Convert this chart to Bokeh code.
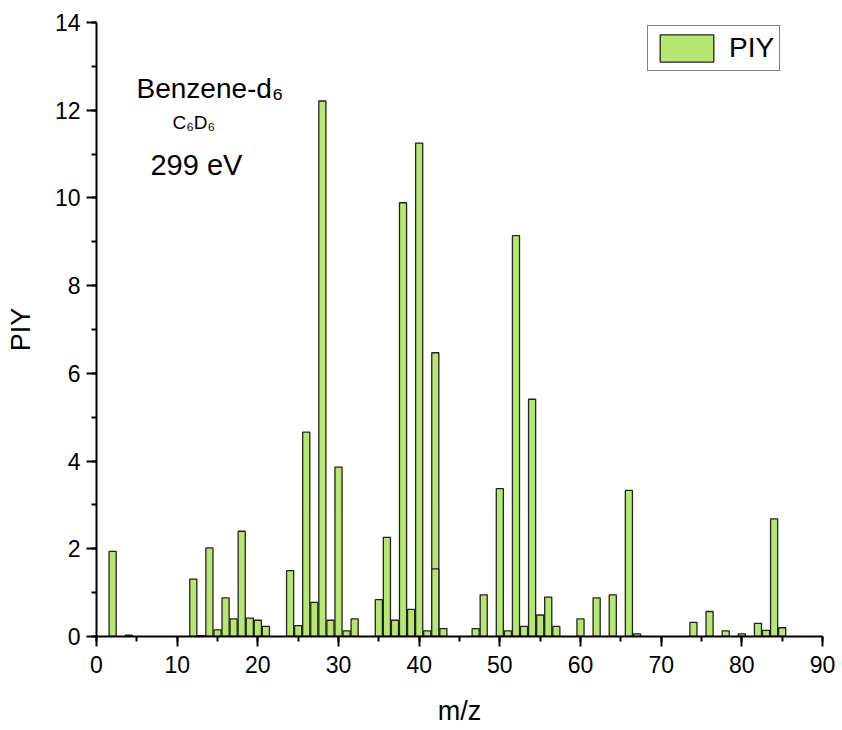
from bokeh.plotting import figure
from bokeh.models import Range1d, SingleIntervalTicker, Legend, LegendItem, Label, ColumnDataSource
from bokeh.embed import file_html
from bokeh.resources import INLINE

mz = [2, 4, 12, 13, 14, 15, 16, 17, 18, 19, 20, 21,
      24, 25, 26, 27, 28, 29, 30, 31, 32,
      35, 36, 37, 38, 39, 40, 41, 42, 42, 43,
      47, 48, 50, 51, 52, 53, 54, 55, 56, 57,
      60, 62, 64, 66, 67,
      74, 76, 78, 80, 82, 83, 84, 85]
piy = [1.94, 0.03, 1.31, 0.02, 2.02, 0.15, 0.88, 0.40, 2.40, 0.42, 0.37, 0.23,
       1.50, 0.25, 4.66, 0.78, 12.21, 0.37, 3.86, 0.13, 0.40,
       0.84, 2.26, 0.37, 9.89, 0.62, 11.25, 0.13, 6.47, 1.54, 0.18,
       0.18, 0.95, 3.37, 0.13, 9.14, 0.23, 5.41, 0.49, 0.90, 0.23,
       0.40, 0.88, 0.95, 3.33, 0.06,
       0.32, 0.57, 0.13, 0.06, 0.30, 0.14, 2.68, 0.20]

x_ticks_interval = 10
y_ticks_interval = 2

FONT = "Liberation Sans"
GREEN = "#b8e672"
EDGE = "#222222"

p = figure(width=842, height=730, output_backend="svg", toolbar_location=None,
           x_range=Range1d(0, 90), y_range=Range1d(0, 14),
           min_border_left=96, min_border_right=20, min_border_top=22, min_border_bottom=94)
p.outline_line_color = None
p.xgrid.visible = False
p.ygrid.visible = False
p.background_fill_color = "white"
p.border_fill_color = "white"

src = ColumnDataSource(data=dict(mz=mz, piy=piy))
r = p.vbar(x="mz", top="piy", width=0.88, bottom=0, source=src,
           fill_color=GREEN, line_color=EDGE, line_width=1.3)

p.xaxis.ticker = SingleIntervalTicker(interval=x_ticks_interval, num_minor_ticks=2)
p.yaxis.ticker = SingleIntervalTicker(interval=y_ticks_interval, num_minor_ticks=2)

for ax in (p.xaxis[0], p.yaxis[0]):
    ax.axis_line_width = 2
    ax.axis_line_color = "black"
    ax.major_tick_line_width = 2
    ax.minor_tick_line_width = 2
    ax.major_tick_line_color = "black"
    ax.minor_tick_line_color = "black"
    ax.major_tick_out = 10
    ax.major_tick_in = 0
    ax.minor_tick_out = 5
    ax.minor_tick_in = 0
    ax.major_label_text_font = FONT
    ax.major_label_text_font_size = "23px"
    ax.major_label_text_color = "black"
    ax.axis_label_text_font = FONT
    ax.axis_label_text_font_size = "27px"
    ax.axis_label_text_font_style = "normal"
    ax.axis_label_text_color = "black"

p.xaxis.axis_label = "m/z"
p.yaxis.axis_label = "PIY"
p.xaxis.major_label_standoff = 9
p.yaxis.major_label_standoff = 6
p.xaxis.axis_label_standoff = 20
p.yaxis.axis_label_standoff = 16

legend = Legend(items=[LegendItem(label="PIY", renderers=[r])],
                location=(551, 565), orientation="vertical",
                glyph_width=67, glyph_height=34, label_standoff=9,
                padding=5, margin=0, spacing=0,
                border_line_color="black", border_line_width=1.2,
                background_fill_color="white", background_fill_alpha=1,
                label_text_font=FONT, label_text_font_size="28px",
                label_text_color="black", label_height=34)
p.add_layout(legend)

p.add_layout(Label(x=4.96, y=12.50, text="Benzene-d₆", text_font=FONT,
                   text_font_size="28px", text_color="black", text_baseline="alphabetic"))
p.add_layout(Label(x=9.42, y=11.73, text="C₆D₆", text_font=FONT,
                   text_font_size="19px", text_color="black", text_baseline="alphabetic"))
p.add_layout(Label(x=6.69, y=10.74, text="299 eV", text_font=FONT,
                   text_font_size="29px", text_color="black", text_baseline="alphabetic"))

open("out.html", "w").write(file_html(p, INLINE))
